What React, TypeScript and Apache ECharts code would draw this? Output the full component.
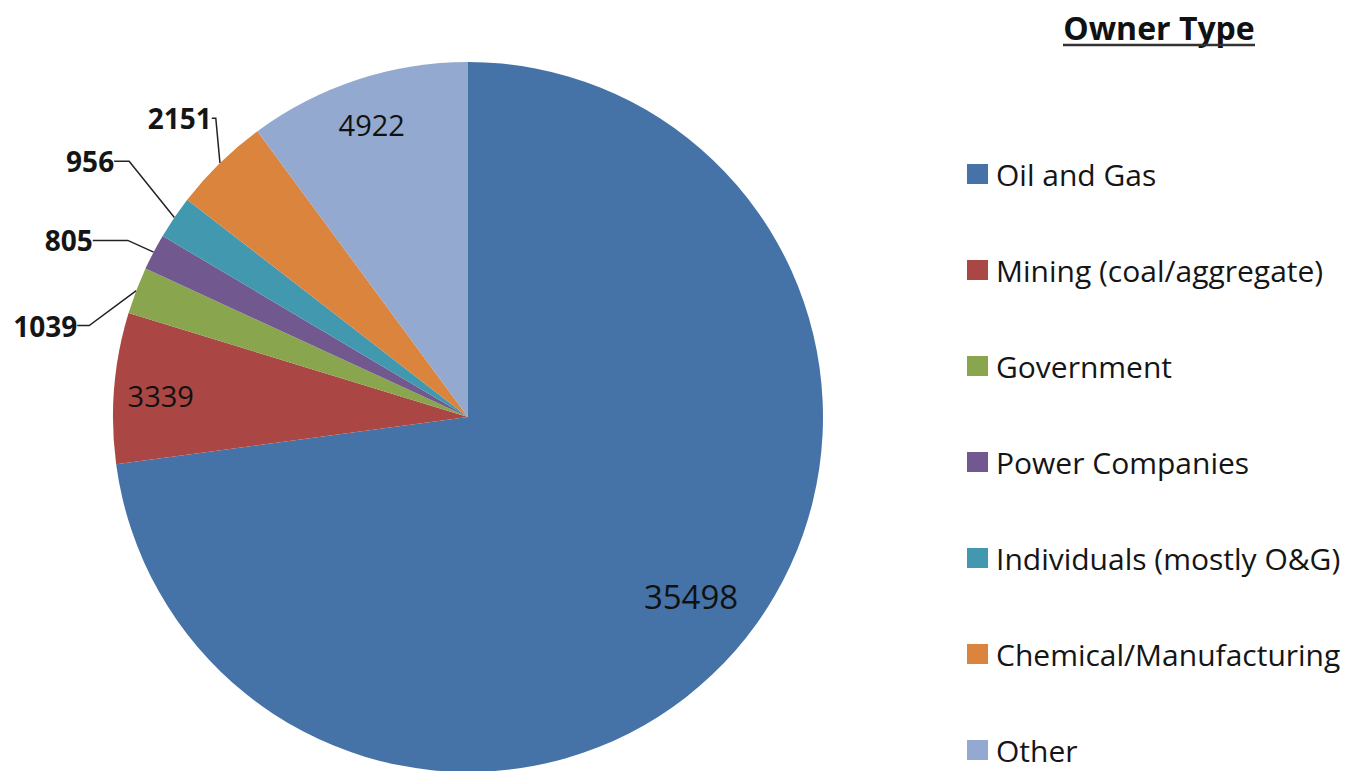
import React, { useEffect, useRef } from "react";
import * as echarts from "echarts";

const categories = [
  "Oil and Gas",
  "Mining (coal/aggregate)",
  "Government",
  "Power Companies",
  "Individuals (mostly O&G)",
  "Chemical/Manufacturing",
  "Other",
];
const values = [35498, 3339, 1039, 805, 956, 2151, 4922];
const colors = ["#4572A7", "#AA4643", "#89A54E", "#71588F", "#4198AF", "#DB843D", "#93A9CF"];
const insideLabel = [true, true, false, false, false, false, true];
const titleText = "Owner Type";

// style-only per-slice settings
const lineLen = [10, 10, 14, 10, 45, 36, 10];
const lineLen2 = [10, 10, 12, 35, 15, 4, 10];
const insideSize = [33, 29, 26, 26, 26, 26, 29];
const labelShift = [
  [-9, -23],
  [0, 4],
  [-29, 40],
  [-12, -7],
  [-3, -31],
  [26, -19],
  [0, 0],
];

const FONT = "'Open Sans', Lato, sans-serif";
const CX = 468;
const CY = 417;
const R = 355;

export default function App() {
  const ref = useRef<HTMLDivElement>(null);
  useEffect(() => {
    if (!ref.current) return;
    const chart = echarts.init(ref.current, undefined, { renderer: "svg" });
    const titleX = 1159;
    const titleY = 27;
    const tw = 192;

    const mainData = categories.map((name, i) => ({
      name,
      value: values[i],
      itemStyle: { color: colors[i] },
      label: { show: !insideLabel[i] },
      labelLine: { show: !insideLabel[i], length: lineLen[i], length2: lineLen2[i] },
    }));
    const overlayData = categories.map((name, i) => ({
      name,
      value: values[i],
      itemStyle: { color: "rgba(0,0,0,0)" },
      label: {
        show: insideLabel[i],
        fontSize: insideSize[i],
        offset: labelShift[i],
      },
    }));

    chart.setOption({
      animation: false,
      backgroundColor: "#ffffff",
      legend: {
        data: categories,
        orient: "vertical",
        left: 967,
        top: 159,
        bottom: 0,
        padding: 0,
        itemWidth: 21,
        itemHeight: 20,
        itemGap: 66,
        icon: "rect",
        selectedMode: false,
        textStyle: {
          fontFamily: FONT,
          fontSize: 30,
          color: "#151515",
          padding: [0, 0, 0, 3],
        },
      },
      graphic: [
        {
          type: "text",
          x: titleX,
          y: titleY,
          style: {
            text: titleText,
            fontFamily: FONT,
            fontWeight: "bold",
            fontSize: 32,
            fill: "#111",
            align: "center",
            verticalAlign: "middle",
          },
        },
        {
          type: "line",
          shape: { x1: titleX - tw / 2, y1: titleY + 18, x2: titleX + tw / 2, y2: titleY + 18 },
          style: { stroke: "#333", lineWidth: 2.5 },
        },
      ],
      series: [
        {
          type: "pie",
          center: [CX, CY],
          radius: [0, R],
          startAngle: 90,
          clockwise: true,
          avoidLabelOverlap: false,
          silent: true,
          itemStyle: { borderWidth: 0 },
          label: {
            position: "outside",
            formatter: "{c}",
            fontFamily: FONT,
            fontWeight: "bold",
            fontSize: 28,
            color: "#151515",
          },
          labelLine: { lineStyle: { color: "#222", width: 1.5 } },
          labelLayout: (p: any) => {
            const s = labelShift[p.dataIndex];
            const r = p.labelRect;
            return {
              x: r.x + r.width + s[0],
              y: r.y + r.height / 2 + s[1],
              align: "right",
              verticalAlign: "middle",
            };
          },
          data: mainData,
        },
        {
          type: "pie",
          center: [CX, CY],
          radius: [0, R * 1.72],
          startAngle: 90,
          clockwise: true,
          silent: true,
          avoidLabelOverlap: false,
          label: {
            position: "inside",
            formatter: "{c}",
            fontFamily: FONT,
            color: "#111",
          },
          labelLine: { show: false },
          data: overlayData,
        },
      ],
    });
    return () => chart.dispose();
  }, []);
  return (
    <div
      ref={ref}
      style={{ position: "absolute", left: 0, top: 0, width: 1352, height: 771 }}
    />
  );
}
